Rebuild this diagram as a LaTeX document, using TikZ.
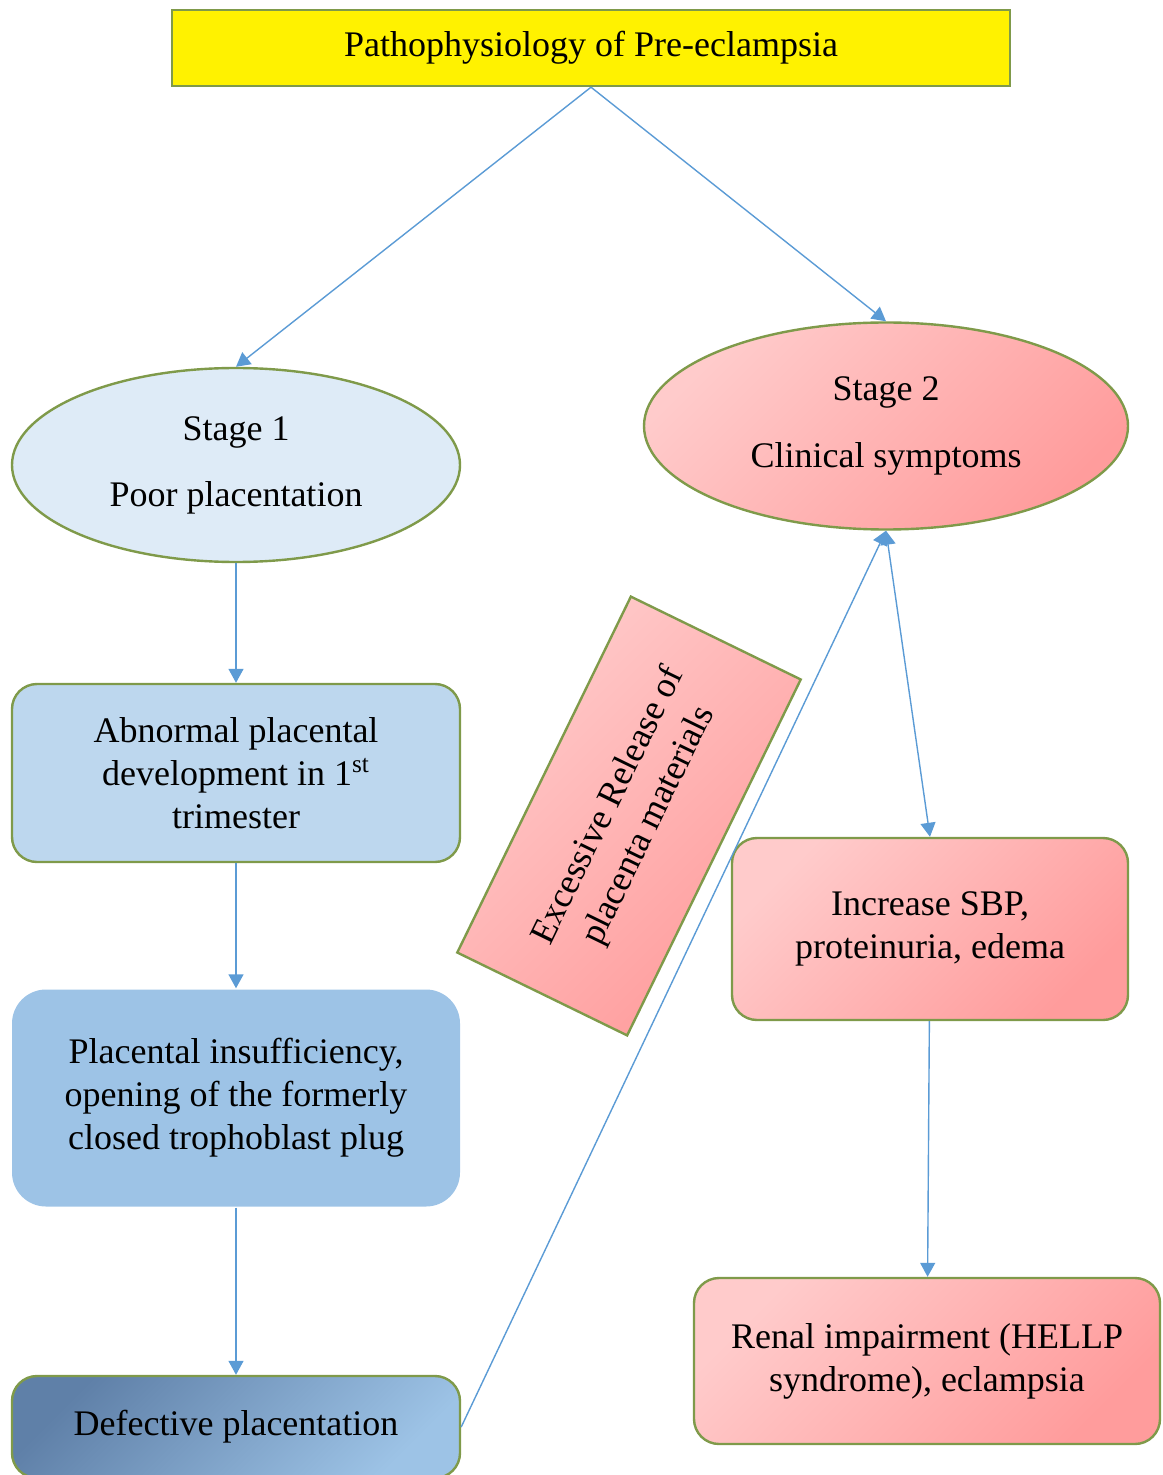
\documentclass[tikz,border=0pt]{standalone}
\usepackage{fontspec}
\setmainfont{Liberation Serif}
\usetikzlibrary{arrows.meta,shapes.geometric}
\definecolor{edgegreen}{HTML}{7F9A4A}
\definecolor{linkblue}{HTML}{5B9BD5}
\definecolor{paleblue}{HTML}{DEEBF7}
\definecolor{lightblue}{HTML}{BDD7EE}
\definecolor{midblue}{HTML}{9DC3E6}
\definecolor{darkblue}{HTML}{5F80A8}
\definecolor{pinklight}{HTML}{FFCBCB}
\definecolor{pinkdark}{HTML}{FF9C9C}
\begin{document}
\begin{tikzpicture}[x=0.5pt, y=-0.5pt,
    every node/.style={font=\fontsize{18}{21.5}\selectfont, align=center, inner sep=0pt},
    box/.style={rectangle, rounded corners=12.5pt, draw=edgegreen, line width=1.2pt},
    oval/.style={ellipse, draw=edgegreen, line width=1.2pt},
    pinkfill/.style={top color=pinklight, bottom color=pinkdark, shading angle=45},
    tip/.style={Triangle[width=7.5pt, length=7pt]},
    link/.style={draw=linkblue, line width=0.7pt, -{Triangle[width=7.5pt, length=7pt]}}]
    \clip (0,0) rectangle (1162,1475);

    \node[rectangle, fill=yellow, draw=edgegreen, line width=1.2pt, minimum width=419pt, minimum height=38pt] (top) at (591, 48) {Pathophysiology of Pre-eclampsia};

    \node[oval, fill=paleblue, minimum width=224pt, minimum height=97pt] (s1) at (236, 465) {Stage 1\\[11.5pt] Poor placentation};
    \node[oval, pinkfill, minimum width=242pt, minimum height=103.5pt] (s2) at (886, 426) {Stage 2\\[12pt] Clinical symptoms};

    \node[box, fill=lightblue, minimum width=224pt, minimum height=89pt] (abn) at (236, 773) {Abnormal placental\\ development in 1\textsuperscript{st}\\ trimester};
    \node[box, draw=none, fill=midblue, rounded corners=17pt, minimum width=224pt, minimum height=108.5pt] (ins) at (236, 1098) {Placental insufficiency,\\ opening of the formerly\\ closed trophoblast plug};
    \node[box, top color=darkblue, bottom color=midblue, shading angle=45, minimum width=224pt, minimum height=51pt] (def) at (236, 1427) {Defective placentation};

    \node[box, pinkfill, rotate=64, rounded corners=0pt, minimum width=198pt, minimum height=94.5pt] (rel) at (629, 816) {Excessive Release of\\[1pt] placenta materials};

    \node[box, pinkfill, minimum width=198pt, minimum height=91pt] (sbp) at (930, 929) {Increase SBP,\\ proteinuria, edema};
    \node[box, pinkfill, minimum width=233pt, minimum height=83pt] (ren) at (927, 1361) {Renal impairment (HELLP\\ syndrome), eclampsia};

    \draw[link] (top.south) -- (s1.north);
    \draw[link] (top.south) -- (s2.north);
    \draw[link] (s1) -- (abn);
    \draw[link] (abn) -- (ins);
    \draw[link] (ins) -- (def);
    \draw[link] (def.east) -- (s2.south);
    \draw[link, {Triangle[width=7.5pt, length=7pt]}-{Triangle[width=7.5pt, length=7pt]}] (s2.south) -- (sbp.north);
    \draw[link] (sbp) -- (ren);
\end{tikzpicture}
\end{document}
